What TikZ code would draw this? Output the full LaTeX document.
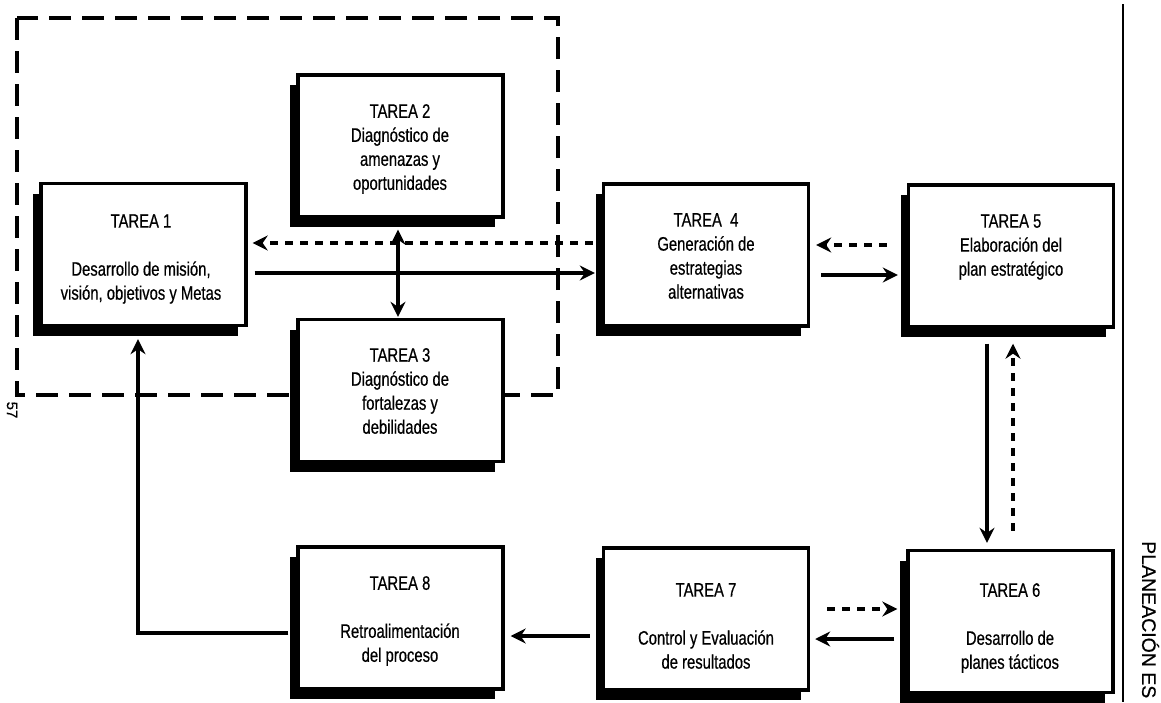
\documentclass[tikz,border=0pt]{standalone}
\usepackage{fontspec}
\setmainfont[FakeStretch=0.76,FakeBold=0.5]{Liberation Sans}
\newfontfamily\sidefont[FakeBold=0.4]{Liberation Sans}
\usetikzlibrary{arrows.meta,shadows,calc}

\begin{document}
\begin{tikzpicture}[x=1pt,y=-1pt,
  taskbox/.style={draw, line width=3.4pt, fill=white, minimum width=205pt,
    minimum height=142pt, inner sep=0pt,
    general shadow={fill=black, shadow xshift=-8pt, shadow yshift=-10pt}},
  tasktext/.style={align=center, inner sep=0pt,
    font=\fontsize{19.5pt}{24pt}\selectfont},
  tip/.style={-{Stealth[length=15pt,width=15pt,inset=5pt]}},
  flow/.style={line width=3.4pt, tip},
  backflow/.style={line width=3.6pt, dash pattern=on 8pt off 7pt, tip},
  twoway/.style={line width=3.4pt,
    {Stealth[length=15pt,width=15pt,inset=5pt]}-{Stealth[length=15pt,width=15pt,inset=5pt]}},
  groupframe/.style={line width=4pt, dash pattern=on 22pt off 11pt}
]
\useasboundingbox (0,0) rectangle (1161,702);

% group of the first three tasks
\draw[groupframe] (17,18) rectangle (558,395);

% page edge rule
\draw[line width=2.4pt] (1123,4) -- (1123,702);

% task boxes
\node[taskbox] (t1) at (143.5,254.5) {};
\node[taskbox] (t2) at (400.5,146) {};
\node[taskbox] (t3) at (400.5,390.5) {};
\node[taskbox] (t4) at (706,255) {};
\node[taskbox] (t5) at (1011,256) {};
\node[taskbox] (t6) at (1010.5,621.5) {};
\node[taskbox] (t7) at (706,619) {};
\node[taskbox] (t8) at (400.5,618) {};

% task texts
\node[tasktext] (l1) at (141,259) {TAREA 1\\[24pt]Desarrollo de misión,\\visión, objetivos y Metas};
\node[tasktext] (l2) at (400,149) {TAREA 2\\Diagnóstico de\\amenazas y\\oportunidades};
\node[tasktext] (l3) at (400,391) {TAREA 3\\Diagnóstico de\\fortalezas y\\debilidades};
\node[tasktext] (l4) at (706,256) {TAREA\ \ 4\\Generación de\\estrategias\\alternativas};
\node[tasktext] (l5) at (1011,247) {TAREA 5\\Elaboración del\\plan estratégico};
\node[tasktext] (l6) at (1010,628) {TAREA 6\\[24pt]Desarrollo de\\planes tácticos};
\node[tasktext] (l7) at (706,626) {TAREA 7\\[24pt]Control y Evaluación\\de resultados};
\node[tasktext] (l8) at (400,621) {TAREA 8\\[24pt]Retroalimentación\\del proceso};

% connectors
\draw[backflow] ($(t4.west)+(-9,-12)$) -- ($(t1.east)+(5,-11.5)$);
\draw[flow] ($(t1.east)+(7,18.5)$) -- ($(t4.west)+(-7,18)$);
\draw[twoway] ($(t2.south)+(-2.5,11)$) -- ($(t3.north)+(-2.5,-1)$);
\draw[backflow] ($(t5.west)+(-20,-11)$) -- ($(t4.east)+(6,-10)$);
\draw[flow] ($(t4.east)+(11,20)$) -- ($(t5.west)+(-9,19)$);
\draw[flow] ($(t5.south)+(-24,15)$) -- ($(t6.north)+(-23.5,-6)$);
\draw[backflow] ($(t6.north)+(2.5,-18)$) -- ($(t5.south)+(2,15)$);
\draw[backflow] ($(t7.east)+(17,-10)$) -- ($(t6.west)+(-9,-12.5)$);
\draw[flow] ($(t6.west)+(-12,17.5)$) -- ($(t7.east)+(5,20)$);
\draw[flow] ($(t7.west)+(-12,17)$) -- ($(t8.east)+(6,18)$);
\draw[flow] ($(t8.west)+(-8,15)$) -| ($(t1.south)+(-5.5,12)$);

% page number and running title
\node[rotate=-90, inner sep=0pt, font=\fontsize{15pt}{15pt}\sidefont] (pageno) at (12,410) {57};
\node[rotate=-90, anchor=west, inner sep=0pt, font=\fontsize{19.5pt}{19.5pt}\sidefont] (runtitle) at (1150.5,541) {PLANEACIÓN ES};
\end{tikzpicture}
\end{document}
